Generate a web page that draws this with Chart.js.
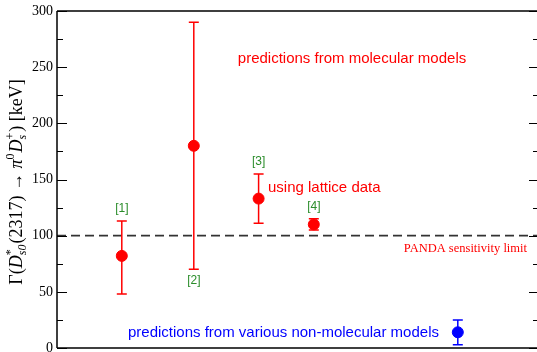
<!DOCTYPE html>
<html>
<head>
<meta charset="utf-8">
<script src="https://cdn.jsdelivr.net/npm/chart.js@4.4.0/dist/chart.umd.min.js"></script>
<style>
  html, body { margin: 0; padding: 0; background: #fff; }
  #wrap { width: 537px; height: 352px; }
</style>
</head>
<body>
<div id="wrap"><canvas id="myChart" width="537" height="352"></canvas></div>
<script>
// donnees
const refLabels = ['[1]', '[2]', '[3]', '[4]'];
const molX = [1.35, 2.85, 4.2, 5.35];
const molWidth = [82, 180, 133, 110];
const molUpper = [113, 290, 155, 115];
const molLower = [48, 70, 111, 105];
const refBelow = [false, true, false, false];

const otherX = [8.35];
const otherWidth = [14];
const otherUpper = [25];
const otherLower = [3];

const pandaLimit = 100;
const yMin = 0, yMax = 300, yStep = 50, yMinorStep = 25;

const RED = '#ff0000';
const BLUE = '#0000ff';
const GREEN = '#2a8c2a';

function toPoints(xs, ys) {
    return xs.map((x, i) => ({ x: x, y: ys[i] }));
}

// barres d'erreur + decorations
const decoPlugin = {
    id: 'deco',
    beforeDatasetsDraw(chart) {
        const ctx = chart.ctx;
        const xs = chart.scales.x, ys = chart.scales.y;
        const a = chart.chartArea;
        ctx.save();
        // ligne PANDA
        ctx.strokeStyle = '#333';
        ctx.lineWidth = 1.6;
        ctx.setLineDash([9, 5]);
        const yl = ys.getPixelForValue(pandaLimit);
        ctx.beginPath();
        ctx.moveTo(a.left, yl);
        ctx.lineTo(a.right, yl);
        ctx.stroke();
        ctx.setLineDash([]);

        function bars(X, U, L, color) {
            ctx.strokeStyle = color;
            ctx.lineWidth = 1.5;
            for (let i = 0; i < X.length; i++) {
                const px = xs.getPixelForValue(X[i]);
                const pu = ys.getPixelForValue(U[i]);
                const pl = ys.getPixelForValue(L[i]);
                ctx.beginPath();
                ctx.moveTo(px, pu); ctx.lineTo(px, pl);
                ctx.moveTo(px - 5, pu); ctx.lineTo(px + 5, pu);
                ctx.moveTo(px - 5, pl); ctx.lineTo(px + 5, pl);
                ctx.stroke();
            }
        }
        bars(molX, molUpper, molLower, RED);
        bars(otherX, otherUpper, otherLower, BLUE);
        ctx.restore();
    },
    afterDraw(chart) {
        const ctx = chart.ctx;
        const xs = chart.scales.x, ys = chart.scales.y;
        const a = chart.chartArea;
        ctx.save();
        // cadre
        ctx.strokeStyle = '#000';
        ctx.lineWidth = 1.5;
        ctx.beginPath();
        ctx.moveTo(a.left, a.top); ctx.lineTo(537, a.top);
        ctx.moveTo(a.left, a.bottom); ctx.lineTo(537, a.bottom);
        ctx.moveTo(a.left, a.top); ctx.lineTo(a.left, a.bottom);
        ctx.stroke();
        ctx.lineWidth = 1;
        for (let v = yMin; v <= yMax; v += yMinorStep) {
            const py = Math.round(ys.getPixelForValue(v)) + 0.5;
            const major = (v % yStep) === 0;
            const len = major ? 10 : 6;
            ctx.beginPath();
            ctx.moveTo(a.left, py); ctx.lineTo(a.left + len, py);
            ctx.moveTo(539, py); ctx.lineTo(539 - len, py);
            ctx.stroke();
        }

        // references
        ctx.fillStyle = GREEN;
        ctx.font = '12px "Liberation Sans", Arial, sans-serif';
        ctx.textAlign = 'center';
        ctx.textBaseline = 'middle';
        for (let i = 0; i < refLabels.length; i++) {
            const px = xs.getPixelForValue(molX[i]);
            const py = refBelow[i] ? ys.getPixelForValue(molLower[i]) + 11 : ys.getPixelForValue(molUpper[i]) - 12;
            ctx.fillText(refLabels[i], px, py);
        }

        // textes
        ctx.fillStyle = RED;
        ctx.font = '15px "Liberation Sans", Arial, sans-serif';
        ctx.fillText('predictions from molecular models', 352, 59);
        ctx.textAlign = 'left';
        ctx.fillText('using lattice data', 268, 188);
        ctx.fillStyle = BLUE;
        ctx.fillText('predictions from various non-molecular models', 128, 333);
        ctx.fillStyle = RED;
        ctx.textAlign = 'right';
        ctx.font = '12.5px "Liberation Serif", "Times New Roman", serif';
        ctx.fillText('PANDA sensitivity limit', 527, 249);

        // titre de l'axe y
        drawYTitle(ctx, 22, 182);
        ctx.restore();
    }
};

function drawYTitle(ctx, x, yc) {
    const big = 18, small = 12;
    const serif = '"Liberation Serif", "Times New Roman", serif';
    const parts = [
        { t: 'Γ(', f: big + 'px ' + serif },
        { t: 'D', f: 'italic ' + big + 'px ' + serif },
        { sup: '*', sub: 's0', supF: small + 'px ' + serif, subF: 'italic ' + small + 'px ' + serif },
        { t: '(2317) → ', f: big + 'px ' + serif },
        { t: 'π', f: 'italic ' + big + 'px ' + serif },
        { sup: '0', supF: small + 'px ' + serif },
        { t: 'D', f: 'italic ' + big + 'px ' + serif },
        { sup: '+', sub: 's', supF: small + 'px ' + serif, subF: 'italic ' + small + 'px ' + serif },
        { t: ') [keV]', f: big + 'px ' + serif }
    ];
    let total = 0;
    parts.forEach(p => {
        if (p.t) { ctx.font = p.f; p.w = ctx.measureText(p.t).width; }
        else {
            let w = 0;
            if (p.sup) { ctx.font = p.supF; w = Math.max(w, ctx.measureText(p.sup).width); }
            if (p.sub) { ctx.font = p.subF; w = Math.max(w, ctx.measureText(p.sub).width); }
            p.w = w + 1;
        }
        total += p.w;
    });
    ctx.save();
    ctx.translate(x, yc);
    ctx.rotate(-Math.PI / 2);
    ctx.fillStyle = '#000';
    ctx.textAlign = 'left';
    ctx.textBaseline = 'alphabetic';
    let cx = -total / 2;
    parts.forEach(p => {
        if (p.t) { ctx.font = p.f; ctx.fillText(p.t, cx, 0); }
        else {
            if (p.sup) { ctx.font = p.supF; ctx.fillText(p.sup, cx, -8); }
            if (p.sub) { ctx.font = p.subF; ctx.fillText(p.sub, cx, 4); }
        }
        cx += p.w;
    });
    ctx.restore();
}

const ctx = document.getElementById('myChart').getContext('2d');
const myChart = new Chart(ctx, {
    type: 'scatter',
    data: {
        datasets: [{
            label: 'molecular',
            data: toPoints(molX, molWidth),
            backgroundColor: RED,
            borderColor: RED,
            pointRadius: 5.5,
            pointHoverRadius: 5.5
        }, {
            label: 'non-molecular',
            data: toPoints(otherX, otherWidth),
            backgroundColor: BLUE,
            borderColor: BLUE,
            pointRadius: 5.5,
            pointHoverRadius: 5.5
        }]
    },
    options: {
        responsive: false,
        animation: false,
        layout: { autoPadding: false, padding: { top: 11, bottom: 4, left: 0, right: 0 } },
        plugins: { legend: { display: false }, tooltip: { enabled: false } },
        scales: {
            x: { type: 'linear', min: 0, max: 10, display: false },
            y: {
                min: yMin, max: yMax,
                grid: { display: false, drawTicks: false },
                border: { display: false },
                ticks: {
                    stepSize: yStep,
                    padding: 4,
                    color: '#000',
                    font: { family: '"Liberation Serif", "Times New Roman", serif', size: 14 }
                },
                afterFit(scale) {
                    scale.width = 57;
                    scale.paddingTop = 0;
                    scale.paddingBottom = 0;
                }
            }
        }
    },
    plugins: [decoPlugin]
});
</script>
</body>
</html>
